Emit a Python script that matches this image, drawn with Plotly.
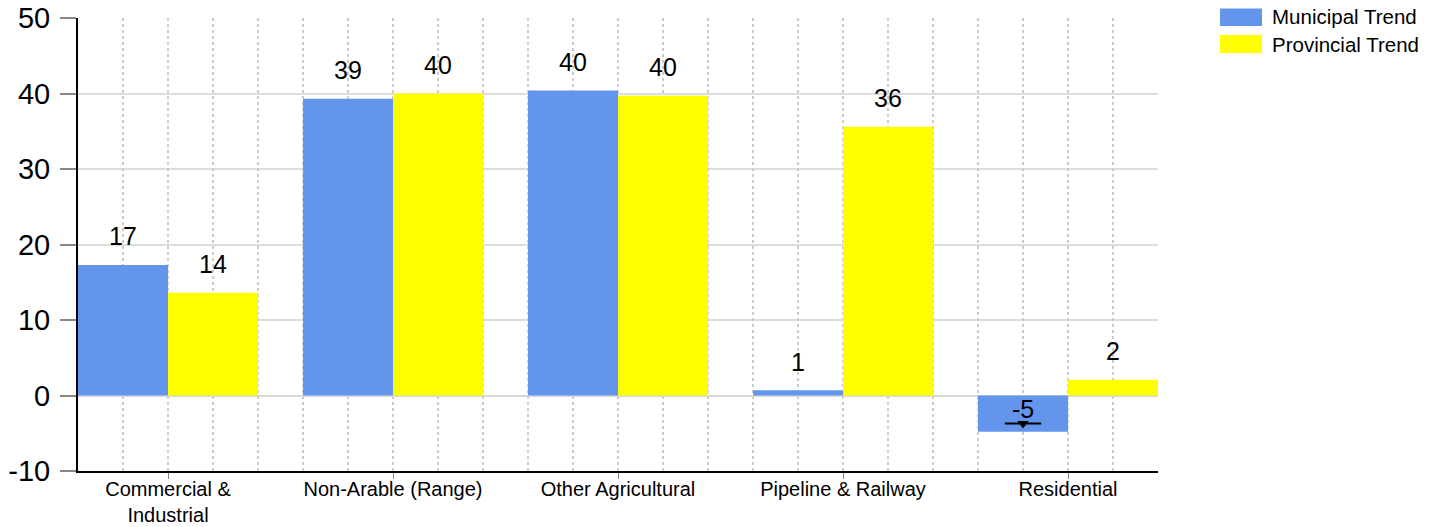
import plotly.graph_objects as go

categories = ["Commercial &<br>Industrial", "Non-Arable (Range)", "Other Agricultural",
              "Pipeline & Railway", "Residential"]
municipal = [17.3, 39.3, 40.4, 0.7, -4.8]
provincial = [13.6, 40.0, 39.7, 35.6, 2.1]
trend_category_index = [4]
trend_values = [-3.7]
series_names = ["Municipal Trend", "Provincial Trend"]
colors = ["#6495ED", "#FFFF00"]
y_ticks = [-10, 0, 10, 20, 30, 40, 50]
y_tick_text = ["-10", "0", "10", "20", "30", "40", "50"]

FONT = "Liberation Sans, Arial, sans-serif"

fig = go.Figure()
fig.add_trace(go.Bar(x=categories, y=municipal, name=series_names[0], showlegend=False,
                     marker=dict(color=colors[0], line=dict(width=0))))
fig.add_trace(go.Bar(x=categories, y=provincial, name=series_names[1], showlegend=False,
                     marker=dict(color=colors[1], line=dict(width=0))))

# trend marker on the municipal residential bar (overlay linear axis)
tx = [i - 0.2 for i in trend_category_index]
fig.add_trace(go.Scatter(x=tx, y=trend_values, xaxis="x2", mode="markers",
                         marker=dict(symbol="line-ew", size=26, line=dict(color="black", width=2)),
                         showlegend=False, hoverinfo="skip"))
fig.add_trace(go.Scatter(x=tx, y=trend_values, xaxis="x2", mode="markers",
                         marker=dict(symbol="triangle-down", size=10, color="black"),
                         showlegend=False, hoverinfo="skip"))

annotations = []
for s, vals in enumerate([municipal, provincial]):
    off = -0.2 if s == 0 else 0.2
    for i, v in enumerate(vals):
        if v >= 0:
            y, ys = v, 28.5
        else:
            y, ys = 0, -13
        annotations.append(dict(x=i + off, y=y, xref="x2", yref="y", text=str(round(v)),
                                showarrow=False, yanchor="middle", yshift=ys,
                                font=dict(size=25, color="black", family=FONT)))

# legend (swatches + labels) placed in the right margin
shapes = []
legend_rows = [(1.02097, 0.98234, 1.00221), (0.96247, 0.92274, 0.94260)]
for (y1, y0, yt), name, col in zip(legend_rows, series_names, colors):
    shapes.append(dict(type="rect", xref="paper", yref="paper", x0=1.0574, x1=1.0963,
                       y0=y0, y1=y1, fillcolor=col, line=dict(width=0)))
    annotations.append(dict(x=1.1037, y=yt, xref="paper", yref="paper", text=name,
                            showarrow=False, xanchor="left", yanchor="middle",
                            font=dict(size=20.5, color="black", family=FONT)))

fig.update_layout(
    width=1435, height=527,
    margin=dict(l=78, r=277, t=18, b=56, autoexpand=False),
    paper_bgcolor="white", plot_bgcolor="white",
    barmode="group", bargap=0.2, bargroupgap=0,
    font=dict(family=FONT, color="black"),
    annotations=annotations, shapes=shapes,
    showlegend=False,
    xaxis=dict(type="category", range=[-0.4, 4.4], showgrid=False, automargin=False,
               showline=True, linecolor="black", linewidth=2,
               ticks="outside", ticklen=6, tickcolor="#888888", tickwidth=1,
               ticklabelstandoff=-7,
               tickfont=dict(size=20, color="black", family=FONT),
               zeroline=False, fixedrange=True),
    xaxis2=dict(overlaying="x", range=[-0.4, 4.4], showgrid=True, griddash="dot",
                gridcolor="#cccccc", gridwidth=2, tick0=0, dtick=0.2, automargin=False,
                showticklabels=False, ticks="", showline=False, zeroline=False,
                fixedrange=True),
    yaxis=dict(range=[-10, 50], tickvals=y_ticks, ticktext=y_tick_text, showgrid=True,
               gridcolor="#dddddd", gridwidth=2, automargin=False,
               zeroline=True, zerolinecolor="#d8d8d8", zerolinewidth=2,
               showline=True, linecolor="black", linewidth=2,
               ticks="outside", ticklen=16, tickcolor="#888888", tickwidth=1.5,
               ticklabelstandoff=4, ticklabeloverflow="allow",
               tickfont=dict(size=29, color="black", family=FONT), fixedrange=True),
)

fig.write_html("out.html",
               config={"displayModeBar": False},
               post_script="document.body.style.margin='0';document.body.style.overflow='hidden';")
